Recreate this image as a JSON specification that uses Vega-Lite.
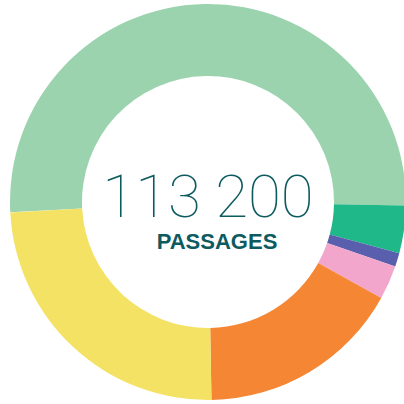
{
  "$schema": "https://vega.github.io/schema/vega-lite/v6.json",
  "width": 404,
  "height": 404,
  "autosize": {"type": "fit", "contains": "padding"},
  "padding": {"left": 12, "right": 0, "top": 0, "bottom": 0},
  "background": "white",
  "view": {"stroke": null},
  "layer": [
    {
      "data": {"values": [
        {"mode": "Piétons", "idx": 1, "value": 57860},
        {"mode": "Vélos", "idx": 2, "value": 4400},
        {"mode": "Bus", "idx": 3, "value": 1260},
        {"mode": "Motos", "idx": 4, "value": 3140},
        {"mode": "Camions", "idx": 5, "value": 18870},
        {"mode": "Voitures", "idx": 6, "value": 27670}
      ]},
      "mark": {"type": "arc", "outerRadius": 198, "innerRadius": 126},
      "encoding": {
        "theta": {"field": "value", "type": "quantitative", "stack": true, "scale": {"range": [4.66, 10.943]}},
        "order": {"field": "idx", "type": "quantitative"},
        "color": {
          "field": "mode", "type": "nominal", "legend": null,
          "scale": {
            "domain": ["Piétons", "Vélos", "Bus", "Motos", "Camions", "Voitures"],
            "range": ["#9bd3ae", "#1fb888", "#5a5fad", "#f2a6cb", "#f58634", "#f4e264"]
          }
        }
      }
    },
    {
      "data": {"values": [{"label": "113 200"}]},
      "mark": {"type": "text", "font": "Roboto", "fontWeight": 100, "fontSize": 60, "color": "#0d5b5f", "baseline": "alphabetic", "align": "center", "dy": 15},
      "encoding": {"text": {"field": "label"}}
    },
    {
      "data": {"values": [{"label": "PASSAGES"}]},
      "mark": {"type": "text", "font": "Liberation Sans", "fontWeight": "bold", "fontSize": 22, "color": "#0d5b5f", "baseline": "alphabetic", "align": "center", "dy": 47, "dx": 9},
      "encoding": {"text": {"field": "label"}}
    }
  ]
}
